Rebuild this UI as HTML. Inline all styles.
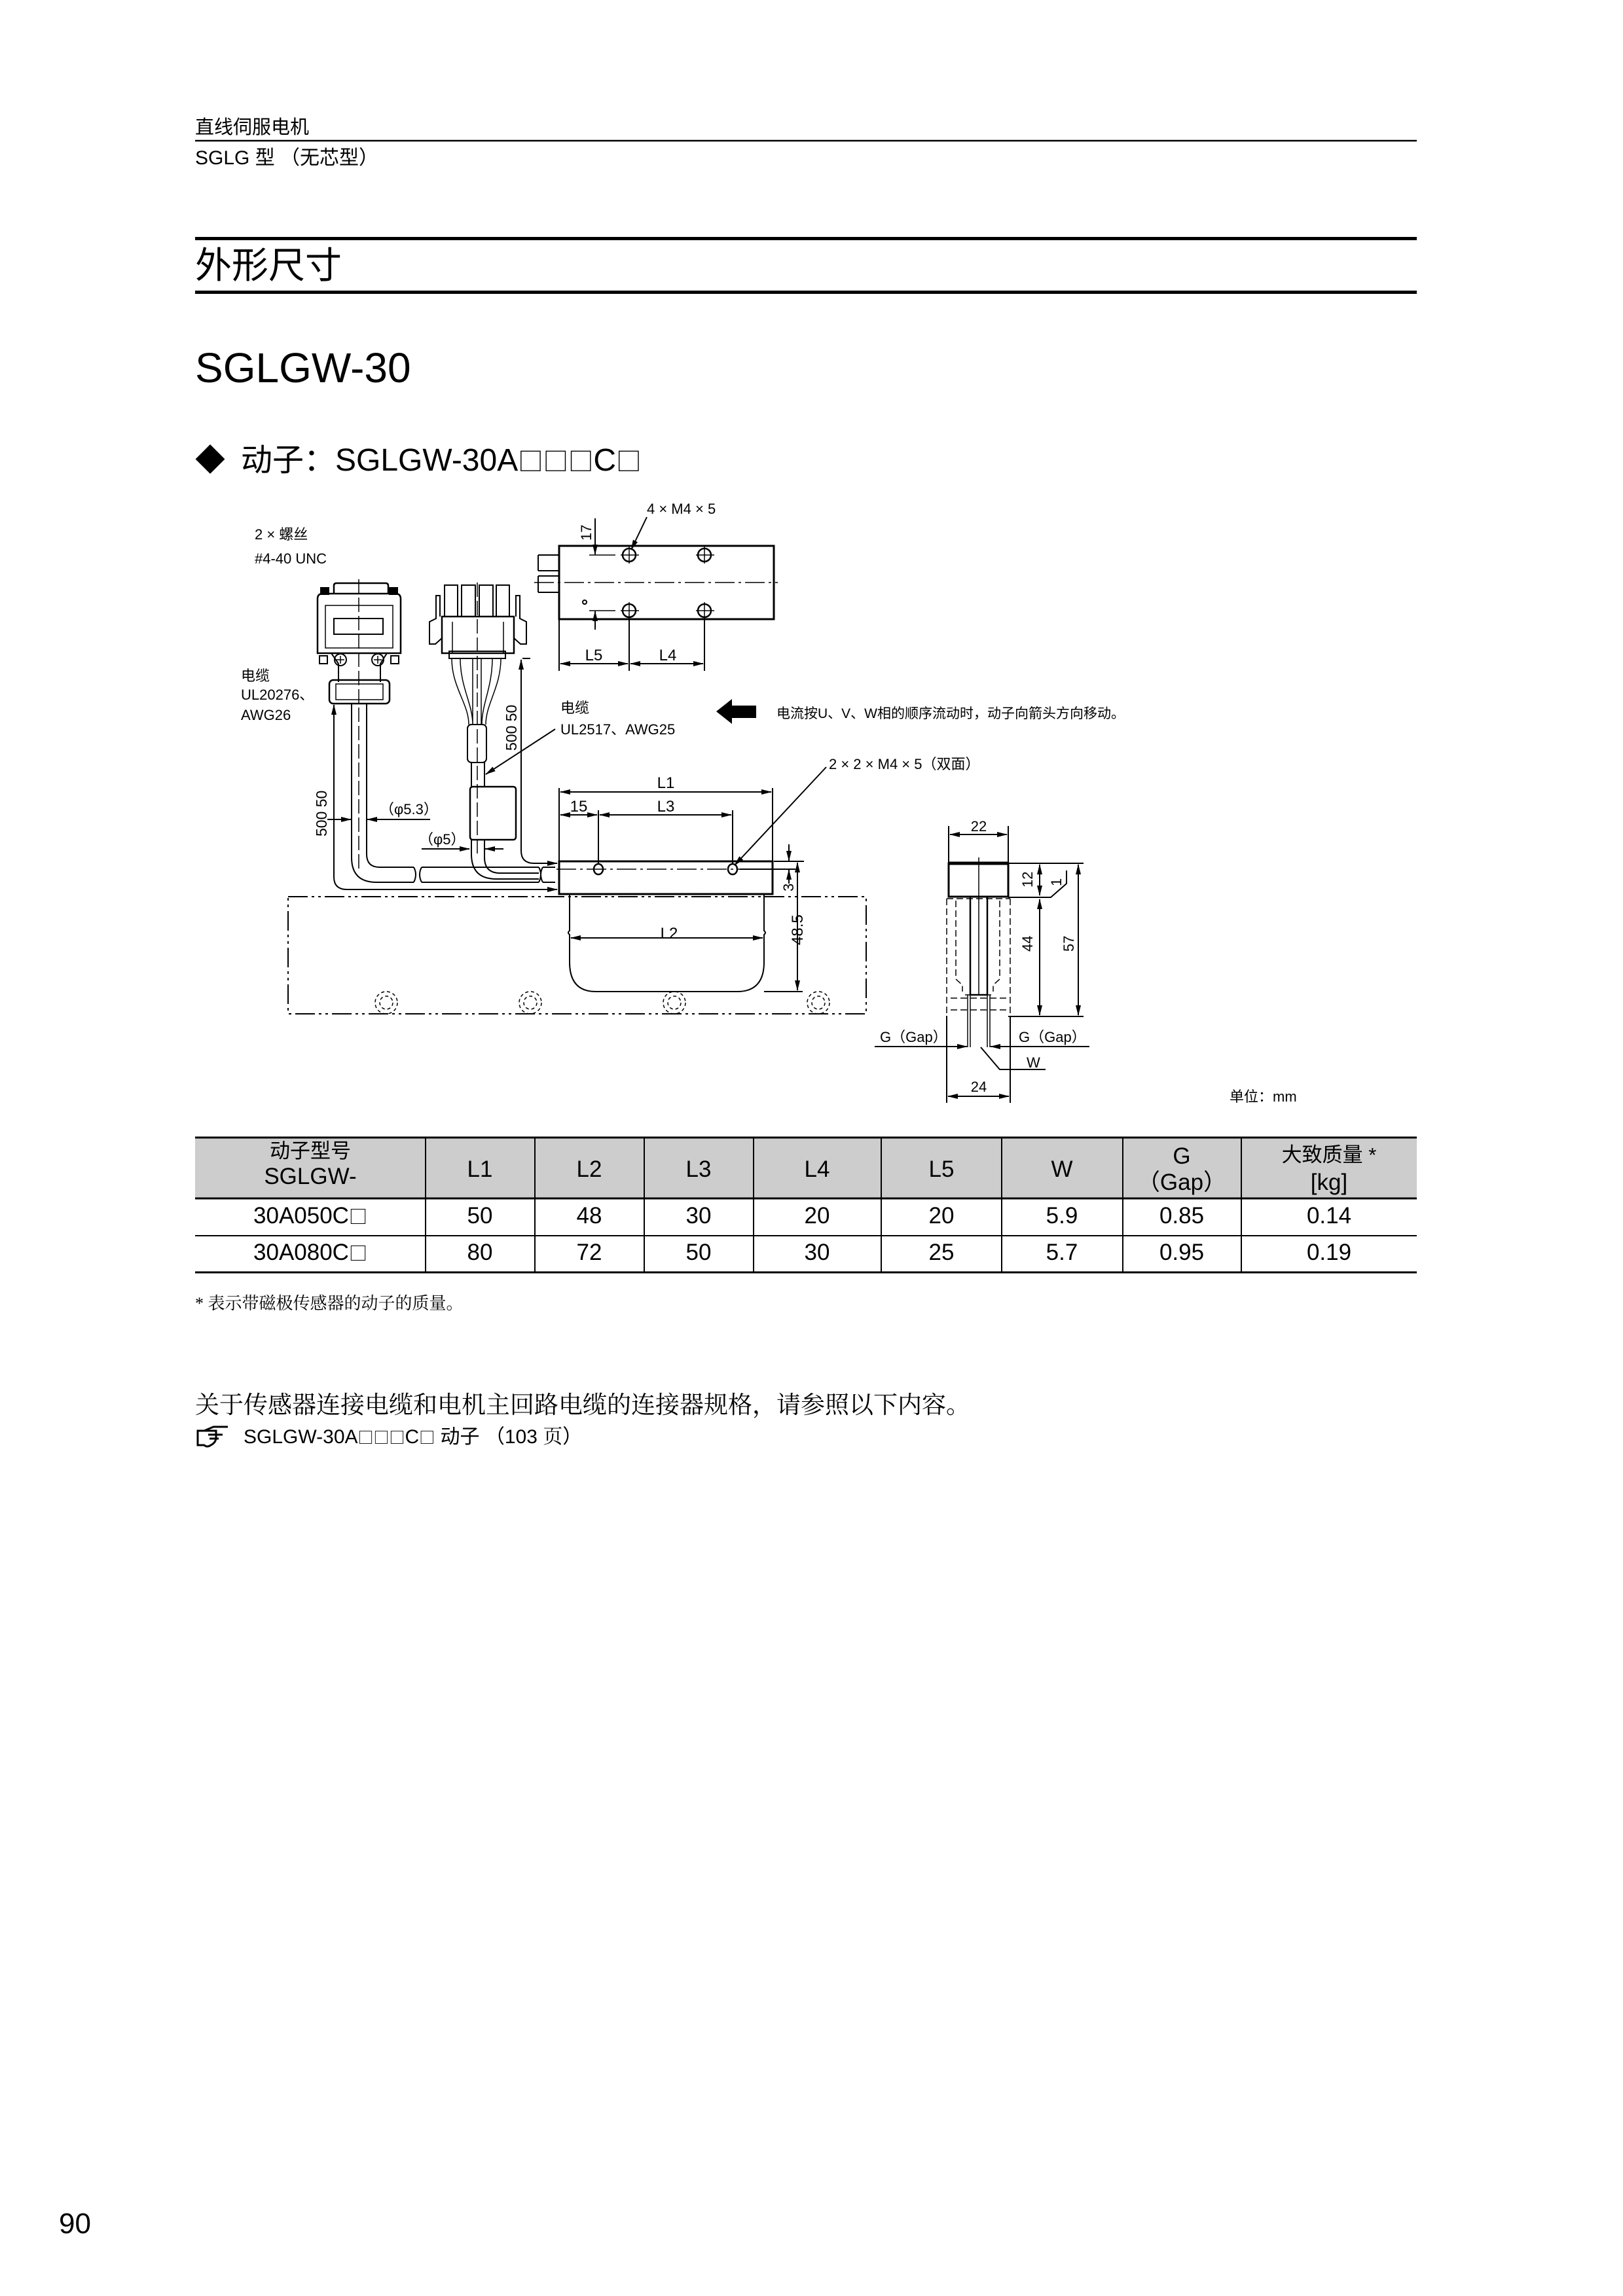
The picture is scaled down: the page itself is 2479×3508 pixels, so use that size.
<!DOCTYPE html>
<html><head><meta charset="utf-8"><style>
html,body{margin:0;padding:0;background:#fff}
svg{display:block}
text{font-family:"Liberation Sans","Noto Sans CJK SC",sans-serif;fill:#000}
.sf{font-family:"Liberation Serif","Noto Serif CJK SC",serif}
.bx{font-family:"Noto Sans CJK SC",sans-serif;font-size:0.8em}
</style></head><body>
<svg width="2479" height="3508" viewBox="0 0 2479 3508" xmlns="http://www.w3.org/2000/svg">
<defs>
<marker id="a" markerWidth="16" markerHeight="10" refX="15" refY="5" orient="auto-start-reverse" markerUnits="userSpaceOnUse"><path d="M0,1 L16,5 L0,9 Z" fill="#000"/></marker>
</defs>
<!-- header -->
<text x="298" y="204" font-size="29">直线伺服电机</text>
<line x1="298" y1="215" x2="2164" y2="215" stroke="#000" stroke-width="2.5"/>
<text x="298" y="251" font-size="30">SGLG 型 （无芯型）</text>
<rect x="298" y="362" width="1866" height="5" fill="#000"/>
<text x="298" y="425" font-size="56">外形尺寸</text>
<rect x="298" y="444" width="1866" height="5" fill="#000"/>
<text x="298" y="584" font-size="64">SGLGW-30</text>
<text x="298" y="719" font-size="46">◆</text>
<text x="368" y="719" font-size="48">动子：SGLGW-30A<tspan class="bx">□□□</tspan>C<tspan class="bx">□</tspan></text>

<g fill="none" stroke="#000" stroke-width="2">
<!-- top view -->
<rect x="854" y="834" width="328" height="112" stroke-width="3"/>
<path d="M822,848 H854 M822,872 H854 M822,880 H854 M822,905 H854 M822,848 V872 M822,880 V905"/>
<line x1="816" y1="890" x2="1188" y2="890" stroke-dasharray="30 6 4 6" stroke-width="1.5"/>
<g stroke-width="2.5">
<circle cx="961" cy="848" r="10"/><circle cx="1076" cy="848" r="10"/>
<circle cx="961" cy="933" r="10"/><circle cx="1076" cy="933" r="10"/>
</g>
<path d="M948,848 H976 M961,835 V861 M1063,848 H1091 M1076,835 V861 M948,933 H976 M961,920 V946 M1063,933 H1091 M1076,920 V946" stroke-width="1.5"/>
<circle cx="893" cy="920" r="3"/>
<path d="M854,946 V1025 M961,946 V1025 M1076,946 V1025"/>
<line x1="856" y1="1014" x2="959" y2="1014" marker-start="url(#a)" marker-end="url(#a)"/>
<line x1="963" y1="1014" x2="1074" y2="1014" marker-start="url(#a)" marker-end="url(#a)"/>
<path d="M900,848 H940 M900,933 H940" stroke-width="1.5"/>
<line x1="909" y1="792" x2="909" y2="847" marker-end="url(#a)"/>
<line x1="909" y1="962" x2="909" y2="934" marker-end="url(#a)"/>
<line x1="988" y1="790" x2="964" y2="840" marker-end="url(#a)"/>

<!-- D-sub connector -->
<path d="M510,907 V895 Q510,891 514,891 H589 Q593,891 593,895 V907" stroke-width="2.5"/>
<path d="M485,998 V915 Q485,907 493,907 H604 Q612,907 612,915 V998 Z" stroke-width="2.5"/>
<path d="M497,925 H600 V990 H497 Z" stroke-width="1.5"/>
<rect x="510" y="945" width="75" height="24" stroke-width="2"/>
<rect x="490" y="898" width="12" height="10" fill="#000"/><rect x="595" y="898" width="12" height="10" fill="#000"/>
<path d="M485,998 L506,998 L517,1014 M612,998 L591,998 L581,1014" stroke-width="2"/>
<circle cx="520" cy="1008" r="9"/><circle cx="577" cy="1008" r="9"/>
<path d="M514,1008 H526 M520,1002 V1014 M571,1008 H583 M577,1002 V1014" stroke-width="1.5"/>
<rect x="488" y="1002" width="12" height="12"/><rect x="597" y="1002" width="12" height="12"/>
<path d="M517,1014 V1042 M581,1014 V1042"/>
<rect x="503" y="1039" width="92" height="36" rx="6" stroke-width="2.5"/>
<rect x="513" y="1045" width="72" height="24" stroke-width="1.5"/>
<line x1="548" y1="885" x2="548" y2="1330" stroke-dasharray="22 6" stroke-width="1.5"/>

<!-- cable 1 -->
<path d="M537,1075 V1310 Q537,1348 575,1348 H632 M560,1075 V1305 Q560,1325 580,1325 H632"/>
<path d="M632,1325 Q638,1336 632,1348 M644,1325 Q638,1336 644,1348"/>
<path d="M644,1325 H823 M644,1348 H823 M829,1325 H848 M829,1348 H848"/>
<path d="M823,1325 Q829,1336 823,1348 M829,1325 Q823,1336 829,1348"/>
<!-- dims left -->
<path d="M510,1078 V1340 Q510,1359 530,1359 H851" marker-end="url(#a)"/>
<line x1="510" y1="1100" x2="510" y2="1077" marker-end="url(#a)"/>
<line x1="500" y1="1252" x2="536" y2="1252" marker-end="url(#a)"/>
<line x1="657" y1="1252" x2="561" y2="1252" marker-end="url(#a)"/>
<line x1="644" y1="1297" x2="717" y2="1297" marker-end="url(#a)"/>
<line x1="769" y1="1297" x2="741" y2="1297" marker-end="url(#a)"/>

<!-- connector 2 -->
<rect x="679" y="894" width="20" height="48"/><rect x="705" y="894" width="21" height="48"/>
<rect x="732" y="894" width="21" height="48"/><rect x="758" y="894" width="20" height="48"/>
<rect x="675" y="942" width="110" height="56" stroke-width="2.5"/>
<rect x="686" y="995" width="86" height="11" stroke-width="2"/>
<path d="M672,942 V910 L666,910 V945 L656,950 V984 L665,984 L675,975 M788,942 V910 L794,910 V945 L804,950 V984 L795,984 L785,975"/>
<path d="M691,950 V998 M769,950 V998" stroke-width="1.5"/>
<line x1="729" y1="890" x2="729" y2="1310" stroke-dasharray="22 6" stroke-width="1.5"/>
<path d="M690,1006 C690,1050 716,1075 716,1107 M703,1006 C703,1050 722,1075 722,1107 M752,1006 C752,1050 736,1075 736,1107 M765,1006 C765,1050 742,1075 742,1107 M722,1006 V1107 M735,1006 V1107" stroke-width="1.5"/>
<rect x="714" y="1107" width="29" height="58" rx="6"/>
<path d="M720,1165 V1202 M740,1165 V1202"/>
<rect x="718" y="1202" width="70" height="81" rx="4" stroke-width="2.5"/>
<path d="M720,1283 V1305 Q720,1343 758,1343 H823 M740,1283 V1310 Q740,1334 764,1334 H823"/>
<path d="M798,1006 H810"/>
<path d="M796,1008 V1300 Q796,1319 816,1319 H851" marker-end="url(#a)"/>
<line x1="796" y1="1030" x2="796" y2="1008" marker-end="url(#a)"/>
<line x1="848" y1="1114" x2="742" y2="1183" marker-end="url(#a)"/>
<!-- big arrow -->
<path d="M1094,1087 L1118,1068 V1078 H1155 V1097 H1118 V1106 Z" fill="#000" stroke="none"/>

<!-- front view -->
<rect x="854" y="1316" width="326" height="50" stroke-width="3"/>
<line x1="850" y1="1328" x2="1200" y2="1328" stroke-dasharray="30 6 4 6" stroke-width="1.5"/>
<ellipse cx="914" cy="1328" rx="7" ry="8" stroke-width="2.5"/><ellipse cx="1119" cy="1328" rx="7" ry="8" stroke-width="2.5"/>
<path d="M854,1204 V1316 M1180,1204 V1316 M914,1238 V1320 M1119,1238 V1320"/>
<line x1="856" y1="1210" x2="1178" y2="1210" marker-start="url(#a)" marker-end="url(#a)"/>
<line x1="856" y1="1245" x2="912" y2="1245" marker-start="url(#a)" marker-end="url(#a)"/>
<line x1="916" y1="1245" x2="1117" y2="1245" marker-start="url(#a)" marker-end="url(#a)"/>
<line x1="1262" y1="1172" x2="1122" y2="1322" marker-end="url(#a)"/>
<path d="M1182,1316 H1228 M1130,1328 H1215"/>
<line x1="1205" y1="1290" x2="1205" y2="1315" marker-end="url(#a)"/>
<line x1="1205" y1="1350" x2="1205" y2="1329" marker-end="url(#a)"/>
<line x1="1218" y1="1318" x2="1218" y2="1513" marker-start="url(#a)" marker-end="url(#a)"/>
<path d="M1167,1515 H1226"/>
<!-- coil -->
<path d="M870,1366 V1422 Q866,1425 870,1428 V1470 Q870,1515 910,1515 H1126 Q1167,1515 1167,1470 V1428 Q1171,1425 1167,1422 V1366" stroke-width="2"/>
<line x1="872" y1="1433" x2="1165" y2="1433" marker-start="url(#a)" marker-end="url(#a)"/>
<!-- track -->
<rect x="440" y="1370" width="883" height="179" stroke-dasharray="30 6 4 6 4 6" stroke-width="2"/>
<g stroke-dasharray="5 4" stroke-width="1.5">
<ellipse cx="590" cy="1532" rx="17" ry="17"/><ellipse cx="590" cy="1532" rx="10" ry="10"/>
<ellipse cx="810" cy="1532" rx="17" ry="17"/><ellipse cx="810" cy="1532" rx="10" ry="10"/>
<ellipse cx="1030" cy="1532" rx="17" ry="17"/><ellipse cx="1030" cy="1532" rx="10" ry="10"/>
<ellipse cx="1250" cy="1532" rx="17" ry="17"/><ellipse cx="1250" cy="1532" rx="10" ry="10"/>
</g>

<!-- side view -->
<path d="M1449,1262 V1319 M1540,1262 V1319"/>
<line x1="1451" y1="1275" x2="1538" y2="1275" marker-start="url(#a)" marker-end="url(#a)"/>
<rect x="1449" y="1319" width="91" height="51" stroke-width="3"/>
<line x1="1449" y1="1319" x2="1540" y2="1319" stroke-width="5"/>
<line x1="1495" y1="1310" x2="1495" y2="1520" stroke-width="1.5"/>
<rect x="1482" y="1370" width="26" height="150" stroke-width="2.5"/>
<g stroke-dasharray="10 5" stroke-width="1.5">
<path d="M1446,1373 V1552 M1543,1373 V1552 M1446,1373 H1543"/>
<path d="M1460,1376 V1496 L1470,1505 V1515 M1527,1376 V1496 L1517,1505 V1515 M1474,1520 H1516 M1452,1525 H1540 M1452,1543 H1540"/>
</g>
<path d="M1478,1520 V1600 M1482,1520 V1600 M1508,1520 V1600 M1512,1520 V1600" stroke-width="1.5"/>
<path d="M1446,1552 V1685 M1543,1552 V1685"/>
<path d="M1540,1319 H1655 M1540,1553 H1655 M1540,1371 H1605 L1629,1350 V1330"/>
<line x1="1588" y1="1321" x2="1588" y2="1368" marker-start="url(#a)" marker-end="url(#a)"/>
<line x1="1588" y1="1374" x2="1588" y2="1551" marker-start="url(#a)" marker-end="url(#a)"/>
<line x1="1647" y1="1321" x2="1647" y2="1551" marker-start="url(#a)" marker-end="url(#a)"/>
<line x1="1336" y1="1599" x2="1477" y2="1599" marker-end="url(#a)"/>
<line x1="1664" y1="1599" x2="1513" y2="1599" marker-end="url(#a)"/>
<path d="M1498,1600 L1527,1634 H1597"/>
<line x1="1448" y1="1675" x2="1541" y2="1675" marker-start="url(#a)" marker-end="url(#a)"/>
</g>

<!-- drawing labels -->
<g font-size="22">
<text x="988" y="785">4 × M4 × 5</text>
<text transform="translate(903,826) rotate(-90)">17</text>
<text x="907" y="1009" text-anchor="middle" font-size="24">L5</text>
<text x="1020" y="1009" text-anchor="middle" font-size="24">L4</text>
<text x="389" y="824">2 ×  螺丝</text>
<text x="389" y="861">#4-40 UNC</text>
<text x="368" y="1040">电缆</text>
<text x="368" y="1069">UL20276、</text>
<text x="368" y="1100">AWG26</text>
<text transform="translate(499,1278) rotate(-90)" font-size="23">500  50</text>
<text transform="translate(789,1147) rotate(-90)" font-size="23">500  50</text>
<text x="580" y="1244">（φ5.3）</text>
<text x="640" y="1290">（φ5）</text>
<text x="856" y="1089">电缆</text>
<text x="856" y="1122">UL2517、AWG25</text>
<text x="1186" y="1097" font-size="21">电流按U、V、W相的顺序流动时，动子向箭头方向移动。</text>
<text x="1266" y="1175">2 × 2 × M4 × 5（双面）</text>
<text x="1017" y="1204" text-anchor="middle" font-size="24">L1</text>
<text x="884" y="1240" text-anchor="middle" font-size="24">15</text>
<text x="1017" y="1240" text-anchor="middle" font-size="24">L3</text>
<text x="1022" y="1434" text-anchor="middle" font-size="24">L2</text>
<text transform="translate(1212,1362) rotate(-90)">3</text>
<text transform="translate(1226,1444) rotate(-90)" font-size="24">48.5</text>
<text x="1495" y="1270" text-anchor="middle">22</text>
<text transform="translate(1577,1356) rotate(-90)">12</text>
<text transform="translate(1621,1354) rotate(-90)">1</text>
<text transform="translate(1577,1454) rotate(-90)">44</text>
<text transform="translate(1640,1454) rotate(-90)">57</text>
<text x="1344" y="1592">G（Gap）</text>
<text x="1556" y="1592">G（Gap）</text>
<text x="1568" y="1631">W</text>
<text x="1495" y="1668" text-anchor="middle">24</text>
<text x="1878" y="1683">单位：mm</text>
</g>

<!-- table -->
<rect x="298" y="1738" width="1866" height="93" fill="#cdcdcd"/>
<g stroke="#000" fill="none">
<line x1="298" y1="1738" x2="2164" y2="1738" stroke-width="3"/>
<line x1="298" y1="1831" x2="2164" y2="1831" stroke-width="3"/>
<line x1="298" y1="1888" x2="2164" y2="1888" stroke-width="2"/>
<line x1="298" y1="1944" x2="2164" y2="1944" stroke-width="3"/>
<path d="M650,1738 V1944 M817,1738 V1944 M984,1738 V1944 M1151,1738 V1944 M1346,1738 V1944 M1530,1738 V1944 M1715,1738 V1944 M1896,1738 V1944" stroke-width="2"/>
</g>
<g font-size="35" text-anchor="middle">
<text x="474" y="1769" font-size="31">动子型号</text>
<text x="474" y="1809">SGLGW-</text>
<text x="733" y="1798">L1</text><text x="900" y="1798">L2</text><text x="1067" y="1798">L3</text>
<text x="1248" y="1798">L4</text><text x="1438" y="1798">L5</text><text x="1622" y="1798">W</text>
<text x="1805" y="1778">G</text><text x="1805" y="1818">（Gap）</text>
<text x="2030" y="1775" font-size="31">大致质量 *</text><text x="2030" y="1818">[kg]</text>
<text x="474" y="1869">30A050C<tspan class="bx">□</tspan></text><text x="733" y="1869">50</text><text x="900" y="1869">48</text><text x="1067" y="1869">30</text><text x="1248" y="1869">20</text><text x="1438" y="1869">20</text><text x="1622" y="1869">5.9</text><text x="1805" y="1869">0.85</text><text x="2030" y="1869">0.14</text>
<text x="474" y="1925">30A080C<tspan class="bx">□</tspan></text><text x="733" y="1925">80</text><text x="900" y="1925">72</text><text x="1067" y="1925">50</text><text x="1248" y="1925">30</text><text x="1438" y="1925">25</text><text x="1622" y="1925">5.7</text><text x="1805" y="1925">0.95</text><text x="2030" y="1925">0.19</text>
</g>
<text x="298" y="2000" font-size="26" class="sf">* 表示带磁极传感器的动子的质量。</text>
<text x="298" y="2159" font-size="37" class="sf">关于传感器连接电缆和电机主回路电缆的连接器规格，请参照以下内容。</text>
<g fill="none" stroke="#000" stroke-width="3">
<path d="M302,2186 V2208 H312 Q316,2212 322,2208 Q330,2204 330,2196 V2186 Z"/>
<path d="M312,2186 L326,2180 H348 M318,2192 H340 M320,2198 H334"/>
</g>
<text x="372" y="2205" font-size="30">SGLGW-30A<tspan class="bx">□□□</tspan>C<tspan class="bx">□</tspan> 动子 （103 <tspan class="sf">页</tspan>）</text>
<text x="90" y="3412" font-size="44">90</text>
</svg>
</body></html>
